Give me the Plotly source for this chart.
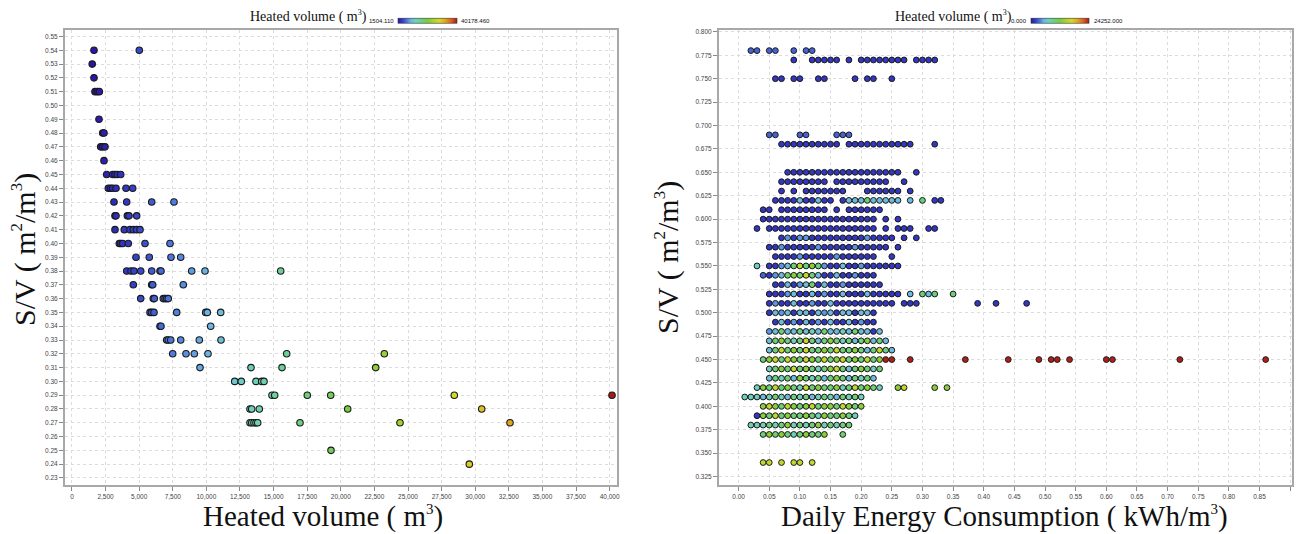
import plotly.graph_objects as go

W, H = 1296, 534

# ---------------- Left chart data: S/V level -> heated volumes (m3) ----------------
LEFT_ROWS = [
    (0.54, [1637, 5007]),
    (0.53, [1504.11]),
    (0.52, [1637]),
    (0.51, [1711, 1882, 2031]),
    (0.49, [2009]),
    (0.48, [2284, 2381]),
    (0.47, [2135, 2284, 2455]),
    (0.46, [2381]),
    (0.45, [2582, 3028, 3199, 3371, 3624]),
    (0.44, [2701, 2879, 3028, 3274, 4018, 4516]),
    (0.43, [3125, 4070, 5930, 7589]),
    (0.42, [3199, 3274, 4115, 4241, 4814]),
    (0.41, [3199, 3891, 4315, 4561, 4814, 5060]),
    (0.40, [3519, 3624, 3772, 4189, 5432, 7292]),
    (0.39, [4762, 5751, 7366, 8088]),
    (0.38, [4070, 4390, 4613, 5112, 5930, 6548, 6622, 8906, 9896, 15528]),
    (0.37, [4561, 5930, 6004, 8281]),
    (0.36, [5112, 6049, 6124, 6793, 6920, 7046, 7165]),
    (0.35, [5804, 5930, 6101, 7790, 9948, 10067, 11064]),
    (0.34, [6548, 6622, 10320]),
    (0.33, [7046, 7165, 7344, 8088, 9472, 11086]),
    (0.32, [7493, 8482, 9100, 10119, 15975, 23237]),
    (0.31, [9524, 13318, 15625, 22597]),
    (0.30, [12106, 12597, 13690, 14115, 14286]),
    (0.29, [14881, 15082, 17507, 19249, 28445, 40178.46]),
    (0.28, [13244, 13371, 13936, 20513, 30484]),
    (0.27, [13244, 13371, 13542, 13690, 13817, 16964, 24405, 32589]),
    (0.25, [19271]),
    (0.24, [29561]),
]
LEFT_CMIN, LEFT_CMAX = 1504.110, 40178.460

# ---------------- Right chart data ----------------
# each token: daily energy consumption in hundredths of kWh/m3 + heated-volume class code
VOLUME_CODES = {'B': 1500, 'b': 3000, 'l': 4500, 'c': 5800, 't': 7500,
                'g': 10000, 'y': 13000, 'Y': 16000, 'r': 24000}
RIGHT_ROWS = [
    (0.78, "2b 3b 5b 6b 9b 11b 12b"),
    (0.77, "9B 12B 13B 14B 15B 16B 18B 20B 21B 22B 23B 24B 25B 26B 27B 29B 30B 31B 32B"),
    (0.75, "6B 7B 9B 10B 13B 14B 19B 21B 22B 25B"),
    (0.69, "5b 6b 10b 11b 16b 17b 18b"),
    (0.68, "7B 8B 9B 10B 11B 12B 13B 14B 15B 16B 18B 19B 20B 21B 22B 23B 24B 25B 26B 27B 28B 32B"),
    (0.65, "8B 9B 10B 11B 12B 13B 14B 15B 16B 17B 18B 19B 20B 21B 22B 23B 24B 25B 26B 29B"),
    (0.64, "7B 8B 9B 10B 11B 12B 13B 14B 16B 17B 18B 19B 20B 21B 22B 23B 24B 27B"),
    (0.63, "7B 9B 11B 12B 13B 14B 15B 16B 17B 21B 22B 23B 24B 25B 26B 28B"),
    (0.62, "6B 7B 8B 9B 10c 11B 12B 13c 14B 15B 17B 18c 19c 20c 21g 22c 23c 24c 25c 26c 28c 30g 32B 33B"),
    (0.61, "4B 5B 7B 8B 9B 10B 11B 12B 13B 14B 16B 18B 19B 20B 21B 22B 23B"),
    (0.60, "4B 5B 6B 7B 8B 9B 10B 11B 12B 13B 14B 15B 16B 17B 18B 19B 20B 21B 22B 24B 26B"),
    (0.59, "3B 5B 6B 7B 8B 9B 10B 11B 12B 13B 14B 15B 16B 17B 18B 19B 20B 21B 22B 24B 26B 27B 28B 31B 32B"),
    (0.58, "7B 8l 9B 10l 11l 12B 13B 14B 15B 16B 17B 18B 19B 20B 21l 22B 23B 24B 25B 27B 29B"),
    (0.57, "5B 6B 7l 8B 9B 10B 11B 12B 13l 14B 15B 16B 17B 18B 19l 20B 21B 22B 23B 24B 26B"),
    (0.56, "6B 7B 8B 9B 10l 11B 12B 13B 14B 15B 16l 17B 18B 19B 20B 21B 22B 25B"),
    (0.55, "3t 5B 6B 7l 8c 9g 10Y 11g 12y 13g 14l 15B 16B 17c 18B 19B 20l 21B 22B 23B 24B 25B 26B"),
    (0.54, "4b 5B 6l 7c 8g 9y 10g 11Y 12g 13c 14B 15B 16c 17B 18B 19l 20B 21B 22B"),
    (0.53, "6B 7B 8c 9B 10l 11c 12g 13B 14c 15B 16B 17l 18B 19B 20B 21B 22B 23B"),
    (0.52, "5B 6B 7B 8l 9c 10B 11B 12c 13B 14l 15B 16B 17c 18B 19B 20B 21c 22B 23B 24B 25B 26B 28c 30g 31c 32g 35g"),
    (0.51, "5B 6l 7B 8B 9c 10B 11B 12l 13B 14B 15c 16B 17B 18B 19B 20B 21B 22B 23B 24B 25B 27B 28B 29B 39B 42B 47B"),
    (0.50, "5B 6c 7l 8c 9B 10c 11c 12B 13c 14l 15c 16B 17c 18c 19B 20c 21c 22B"),
    (0.49, "6B 7c 8B 9l 10B 11c 12B 13l 14B 15c 16B 17B 18c 19B 20l 21B 22B"),
    (0.48, "5l 6c 7g 8c 9c 10g 11c 12t 13c 14g 15c 16c 17t 18c 19g 20c 21c 22B 23c"),
    (0.47, "5c 6g 7y 8g 9t 10g 11Y 12g 13c 14g 15y 16g 17t 18g 19c 20g 21y 22c 23g 24c"),
    (0.46, "5c 6g 7Y 8g 9y 10g 11Y 12g 13g 14y 15g 16Y 17g 18g 19y 20g 21c 22g 23Y 24g 25c"),
    (0.45, "4g 5y 6Y 7g 8Y 9y 10g 11Y 12y 13g 14Y 15g 16y 17Y 18g 19y 20g 21Y 22g 23y 24r 25r 28r 37r 44r 49r 51r 52r 54r 60r 61r 72r 86r"),
    (0.44, "5t 6g 7y 8g 9Y 10g 11y 12g 13t 14g 15y 16Y 17g 18c 19g 20y 21g 22t 23g"),
    (0.43, "5c 6g 7t 8g 9c 10y 11g 12t 13g 14c 15g 16y 17g 18c 19g 20t 21g 22c"),
    (0.42, "3t 4y 5g 6Y 7g 8y 9g 10t 11Y 12g 13y 14g 15g 16y 17t 18g 19Y 20g 21y 22g 23t 26y 27Y 32y 34y"),
    (0.41, "1t 2t 3t 4c 5t 6g 7t 8c 9g 10t 11g 12c 13t 14g 15t 16c 17g 18t 19g 20t"),
    (0.40, "4y 5Y 6y 7g 8Y 9y 10g 11y 12Y 13g 14y 15y 16g 17Y 18y 19g 20y"),
    (0.39, "3B 4y 5g 6Y 7g 8y 9g 10g 11y 12g 13t 14y 15g 16g 17y 18g 19t"),
    (0.38, "2t 3t 4t 5g 6t 7g 8y 9t 10g 11t 12g 13y 14t 15g 16t 17g 18g"),
    (0.37, "4g 5y 6g 7y 8g 9t 10g 11y 12g 13g 14y 17g"),
    (0.34, "4Y 5Y 7Y 9Y 10Y 12Y"),
]
RIGHT_CMIN, RIGHT_CMAX = 0.0, 24252.0

COLORSCALE = [[0.0, '#2a14a8'], [0.08, '#3440c8'], [0.16, '#4f7fe0'], [0.22, '#6cb4e4'],
              [0.30, '#6ed0c0'], [0.40, '#6cd080'], [0.50, '#78cc40'], [0.60, '#a8d430'],
              [0.70, '#d6d828'], [0.80, '#e0a820'], [0.90, '#e06020'], [1.0, '#a81818']]

# ---------------- build traces ----------------
lx, ly = [], []
for sv, vols in LEFT_ROWS:
    for v in vols:
        lx.append(v)
        ly.append(sv)

rx, ry, rc = [], [], []
for sv, s in RIGHT_ROWS:
    for tok in s.split():
        rx.append(int(tok[:-1]) / 100.0)
        ry.append(sv)
        rc.append(VOLUME_CODES[tok[-1]])

fig = go.Figure()
fig.add_trace(go.Scatter(
    x=lx, y=ly, mode='markers', xaxis='x', yaxis='y', showlegend=False,
    marker=dict(size=6.5, color=lx, coloraxis='coloraxis',
                line=dict(color='#1a1a1a', width=1.1))))
fig.add_trace(go.Scatter(
    x=rx, y=ry, mode='markers', xaxis='x2', yaxis='y2', showlegend=False,
    marker=dict(size=5.8, color=rc, coloraxis='coloraxis2',
                line=dict(color='#1a1a1a', width=1.0))))

def px_x(p):
    return p / W

def px_y(p):
    return 1 - p / H

tickfont = dict(family='Arial, Liberation Sans, sans-serif', size=6.5, color='#444')
common = dict(showline=True, linecolor='#a8a8a8', linewidth=2, mirror=True,
              showgrid=True, gridcolor='#dcdcdc', griddash='dot', gridwidth=1,
              ticks='outside', ticklen=4, tickcolor='#888', tickfont=tickfont,
              zeroline=False)

yd = [px_y(485), px_y(30)]
fig.update_layout(
    width=W, height=H, margin=dict(l=0, r=0, t=0, b=0, autoexpand=False),
    paper_bgcolor='white', plot_bgcolor='white',
    xaxis=dict(domain=[px_x(65), px_x(617)], range=[-520, 40550], dtick=2500, tick0=0,
               tickformat=',d', anchor='y', **common),
    yaxis=dict(domain=yd, range=[0.2249, 0.5547], dtick=0.01, tick0=0.0,
               tickformat='.2f', anchor='x', **common),
    xaxis2=dict(domain=[px_x(719), px_x(1292)], range=[-0.032, 0.903], dtick=0.05, tick0=0,
                tickformat='.2f', anchor='y2', **common),
    yaxis2=dict(domain=yd, range=[0.316, 0.802], dtick=0.025, tick0=0,
                tickformat='.3f', anchor='x2', **common),
    coloraxis=dict(colorscale=COLORSCALE, cmin=LEFT_CMIN, cmax=LEFT_CMAX,
                   colorbar=dict(orientation='h', x=px_x(427), xanchor='center',
                                 y=px_y(20.5), yanchor='middle', len=59, lenmode='pixels',
                                 thickness=5, showticklabels=False, ticks='',
                                 outlinewidth=0.6, outlinecolor='#333', xpad=0, ypad=0)),
    coloraxis2=dict(colorscale=COLORSCALE, cmin=RIGHT_CMIN, cmax=RIGHT_CMAX,
                    colorbar=dict(orientation='h', x=px_x(1060), xanchor='center',
                                  y=px_y(20.5), yanchor='middle', len=58, lenmode='pixels',
                                  thickness=5, showticklabels=False, ticks='',
                                  outlinewidth=0.6, outlinecolor='#333', xpad=0, ypad=0)),
)

serif = 'Liberation Serif, Times New Roman, serif'
sans = 'Arial, Liberation Sans, sans-serif'
ann = []
def add(text, x, y, size, family=serif, xanchor='center', yanchor='middle', angle=0, color='#111'):
    ann.append(dict(text=text, x=px_x(x), y=px_y(y), xref='paper', yref='paper',
                    showarrow=False, xanchor=xanchor, yanchor=yanchor, textangle=angle,
                    font=dict(family=family, size=size, color=color)))

def sup(t, px):
    return '<sup><span style="font-size:%dpx">%s</span></sup>' % (px, t)

# colorbar titles and end labels
add('Heated volume ( m' + sup('3', 8) + ')', 308, 17, 14)
add('1504.110', 396, 21, 6, family=sans, xanchor='right')
add('40178.460', 459, 21, 6, family=sans, xanchor='left')
add('Heated volume ( m' + sup('3', 8) + ')', 953, 17, 14)
add('0.000', 1029, 21, 6, family=sans, xanchor='right')
add('24252.000', 1092, 21, 6, family=sans, xanchor='left')
# axis titles
add('Heated volume ( m' + sup('3', 15) + ')', 323, 516, 29)
add('Daily Energy Consumption ( kWh/m' + sup('3', 15) + ')', 1005, 516, 29)
add('S/V ( m' + sup('2', 17) + '/m' + sup('3', 17) + ')', 24, 250, 30, angle=-90)
add('S/V ( m' + sup('2', 17) + '/m' + sup('3', 17) + ')', 667, 258, 30, angle=-90)
fig.update_layout(annotations=ann)

fig.write_html('out.html', config={'displayModeBar': False},
               post_script="document.body.style.margin='0';document.body.style.overflow='hidden';")
